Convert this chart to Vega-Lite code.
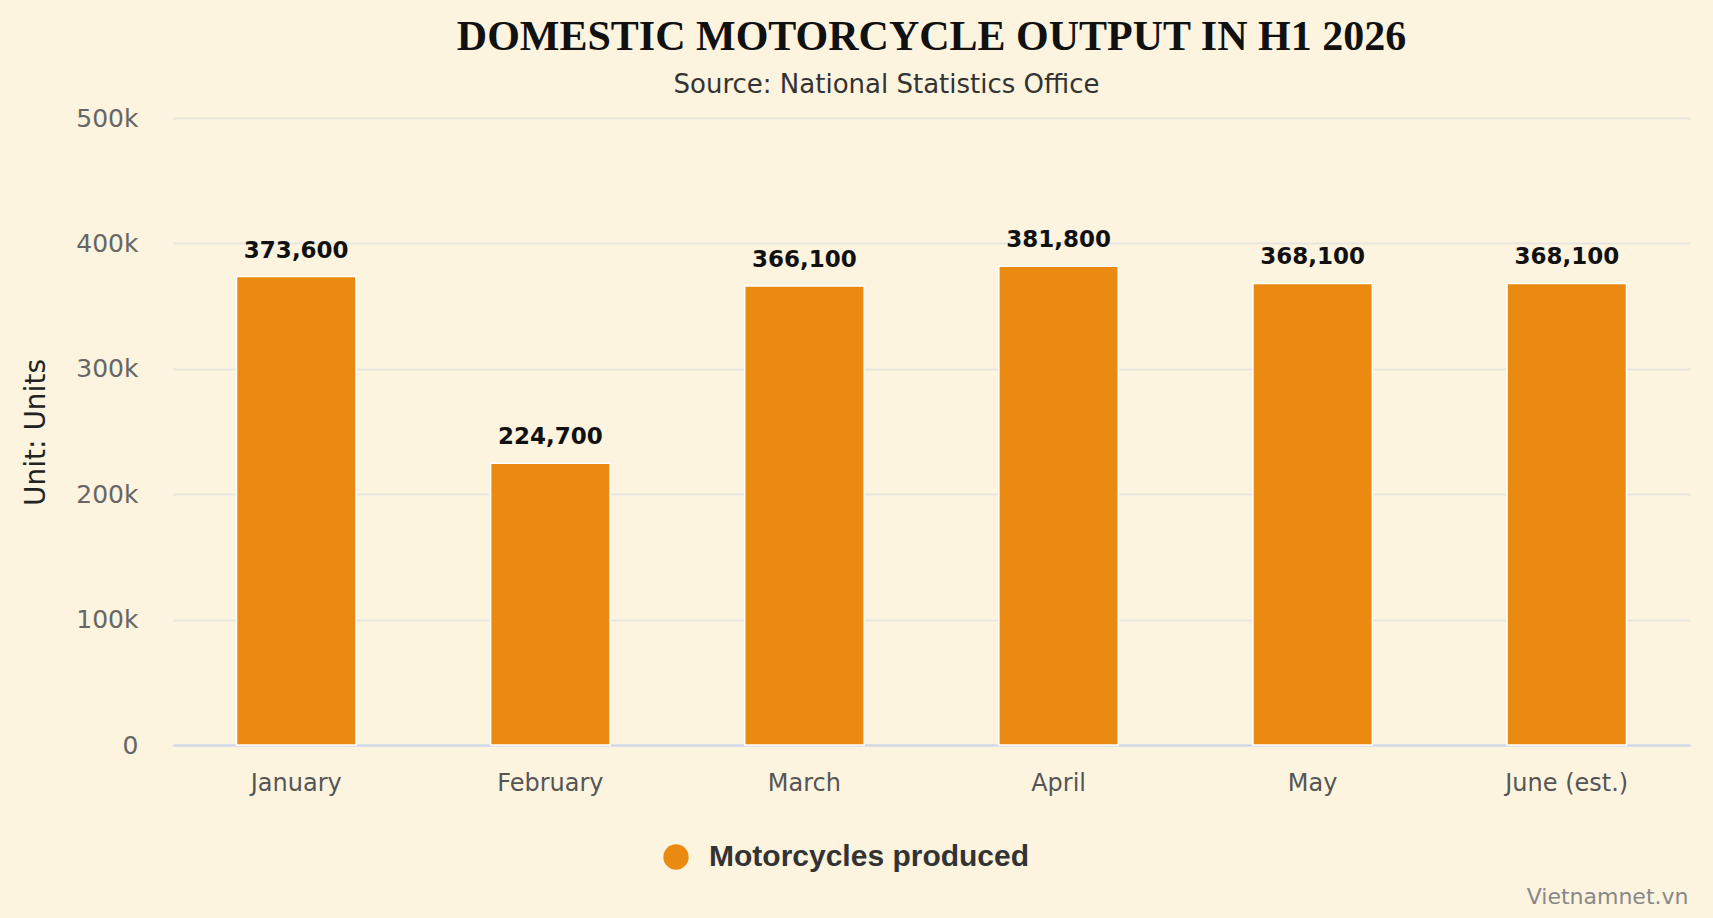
{
  "$schema": "https://vega.github.io/schema/vega-lite/v6.json",
  "autosize": "none",
  "width": 1517,
  "height": 627,
  "padding": {"left": 173, "top": 118, "right": 23, "bottom": 173},
  "background": "#FCF4DF",
  "title": {
    "text": "DOMESTIC MOTORCYCLE OUTPUT IN H1 2026",
    "font": "Liberation Serif",
    "fontSize": 42,
    "fontWeight": "bold",
    "color": "#111111",
    "anchor": "middle",
    "baseline": "alphabetic",
    "offset": -21
  },
  "data": {
    "values": [
      {"Month": "January", "Units": 373600},
      {"Month": "February", "Units": 224700},
      {"Month": "March", "Units": 366100},
      {"Month": "April", "Units": 381800},
      {"Month": "May", "Units": 368100},
      {"Month": "June (est.)", "Units": 368100}
    ]
  },
  "encoding": {
    "x": {
      "field": "Month",
      "type": "nominal",
      "sort": null,
      "scale": {"paddingInner": 0.53, "paddingOuter": 0.25},
      "axis": {
        "title": "Vietnamnet.vn",
        "titleFont": "DejaVu Sans",
        "titleFontSize": 22,
        "titleFontWeight": "normal",
        "titleColor": "#888888",
        "titleAnchor": "end",
        "titleAlign": "right",
        "titleBaseline": "alphabetic",
        "titleX": 1515,
        "titleY": 158,
        "labelAngle": 0,
        "labelFont": "DejaVu Sans",
        "labelFontSize": 24,
        "labelColor": "#555555",
        "labelPadding": 26,
        "ticks": false,
        "domainColor": "#CCD6EB",
        "domainWidth": 2,
        "grid": false
      }
    }
  },
  "layer": [
    {
      "mark": {"type": "bar", "stroke": "#FFFFFF", "strokeWidth": 1.5},
      "encoding": {
        "y": {
          "field": "Units",
          "type": "quantitative",
          "scale": {"domain": [0, 500000]},
          "axis": {
            "title": "Unit: Units",
            "titleFont": "DejaVu Sans",
            "titleFontSize": 28,
            "titleFontWeight": "normal",
            "titleColor": "#222222",
            "titleX": -137,
            "titleY": 314,
            "titleBaseline": "middle",
            "values": [0, 100000, 200000, 300000, 400000, 500000],
            "labelExpr": "datum.value === 0 ? '0' : format(datum.value / 1000, 'd') + 'k'",
            "labelFont": "DejaVu Sans",
            "labelFontSize": 25,
            "labelColor": "#666666",
            "labelPadding": 35,
            "ticks": false,
            "domain": false,
            "gridColor": "#E8E6E0",
            "gridWidth": 2
          }
        },
        "color": {
          "datum": "Motorcycles produced",
          "type": "nominal",
          "scale": {"range": ["#EB8A10"]},
          "legend": {
            "title": null,
            "orient": "none",
            "legendX": 488,
            "legendY": 724,
            "padding": 0,
            "symbolType": "circle",
            "symbolSize": 640,
            "symbolStrokeWidth": 0,
            "labelFont": "Liberation Sans",
            "labelFontSize": 30,
            "labelFontWeight": "bold",
            "labelColor": "#333333",
            "labelOffset": 18,
            "labelLimit": 500
          }
        }
      }
    },
    {
      "mark": {
        "type": "text",
        "baseline": "alphabetic",
        "dy": -19,
        "font": "DejaVu Sans",
        "fontSize": 23,
        "fontWeight": "bold",
        "color": "#111111"
      },
      "encoding": {
        "y": {
          "field": "Units",
          "type": "quantitative",
          "axis": {
            "orient": "right",
            "title": "Source: National Statistics Office",
            "titleFont": "DejaVu Sans",
            "titleFontSize": 26,
            "titleFontWeight": "normal",
            "titleColor": "#333333",
            "titleAngle": 0,
            "titleAlign": "center",
            "titleBaseline": "alphabetic",
            "titleX": -804,
            "titleY": -26,
            "labels": false,
            "ticks": false,
            "domain": false,
            "grid": false
          }
        },
        "text": {"field": "Units", "type": "quantitative", "format": ",d"}
      }
    }
  ],
  "resolve": {"axis": {"y": "independent"}},
  "config": {
    "view": {"stroke": null}
  }
}
